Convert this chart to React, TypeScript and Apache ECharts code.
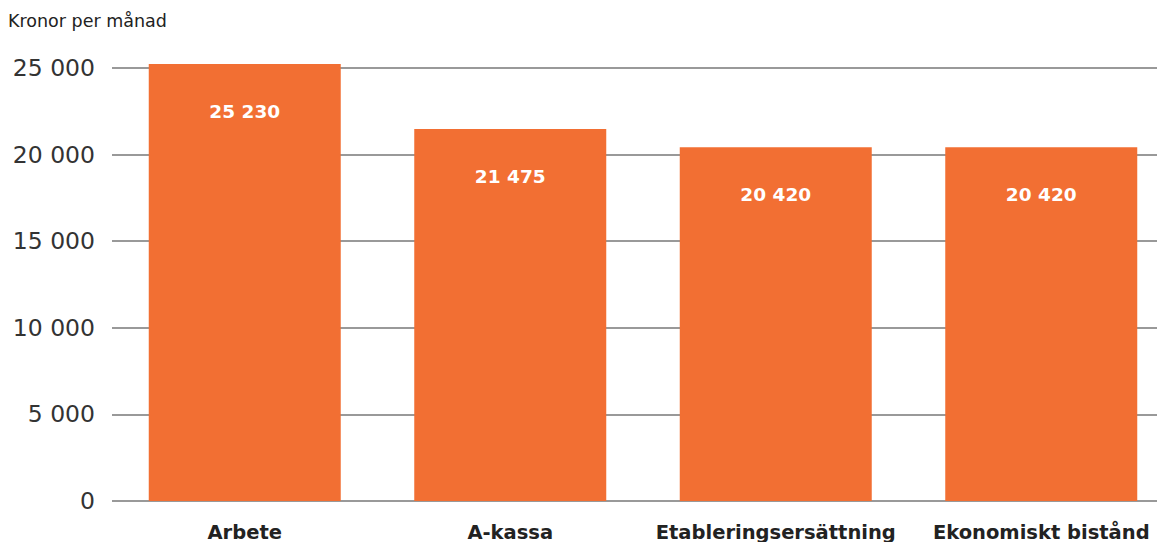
import React, { useEffect, useRef } from "react";
import * as echarts from "echarts";

const categories = ["Arbete", "A-kassa", "Etableringsersättning", "Ekonomiskt bistånd"];
const values = [25230, 21475, 20420, 20420];
const yTicks = [0, 5000, 10000, 15000, 20000, 25000];
const yTitle = "Kronor per månad";

const fmt = (v: number) => String(v).replace(/\B(?=(\d{3})+(?!\d))/g, " ");
const FONT = "'DejaVu Sans', 'Open Sans', sans-serif";

export default function App() {
  const ref = useRef<HTMLDivElement>(null);
  useEffect(() => {
    document.body.style.margin = "0";
    const chart = echarts.init(ref.current!, null, { renderer: "svg" });
    chart.setOption({
      animation: false,
      textStyle: { fontFamily: FONT },
      graphic: [
        {
          type: "text",
          left: 8,
          top: 12,
          style: { text: yTitle, fontSize: 17.5, fill: "#222", fontFamily: FONT },
        },
      ],
      grid: { left: 112, right: 6, top: 68, bottom: 40, containLabel: false },
      xAxis: {
        type: "category",
        data: categories,
        axisLine: { show: false },
        axisTick: { show: false },
        axisLabel: {
          fontSize: 19.5,
          fontWeight: "bold",
          color: "#222",
          margin: 21,
          interval: 0,
          fontFamily: FONT,
        },
      },
      yAxis: {
        type: "value",
        min: 0,
        max: yTicks[yTicks.length - 1],
        interval: 5000,
        axisLabel: {
          fontSize: 23.5,
          color: "#333",
          margin: 17,
          fontFamily: FONT,
          formatter: (v: number) => fmt(v),
        },
        splitLine: { lineStyle: { color: "#999", width: 2 } },
        axisLine: { show: false },
        axisTick: { show: false },
      },
      series: [
        {
          type: "bar",
          data: values,
          barWidth: 192,
          clip: false,
          itemStyle: { color: "#F26F33" },
          label: {
            show: true,
            position: "insideTop",
            distance: 38,
            fontSize: 18.5,
            fontWeight: "bold",
            color: "#fff",
            fontFamily: FONT,
            formatter: (p: any) => fmt(p.value),
          },
        },
      ],
    });
    return () => chart.dispose();
  }, []);
  return (
    <div style={{ width: 1157, height: 542, overflow: "hidden", position: "relative" }}>
      <div ref={ref} style={{ width: 1180, height: 542 }} />
    </div>
  );
}
